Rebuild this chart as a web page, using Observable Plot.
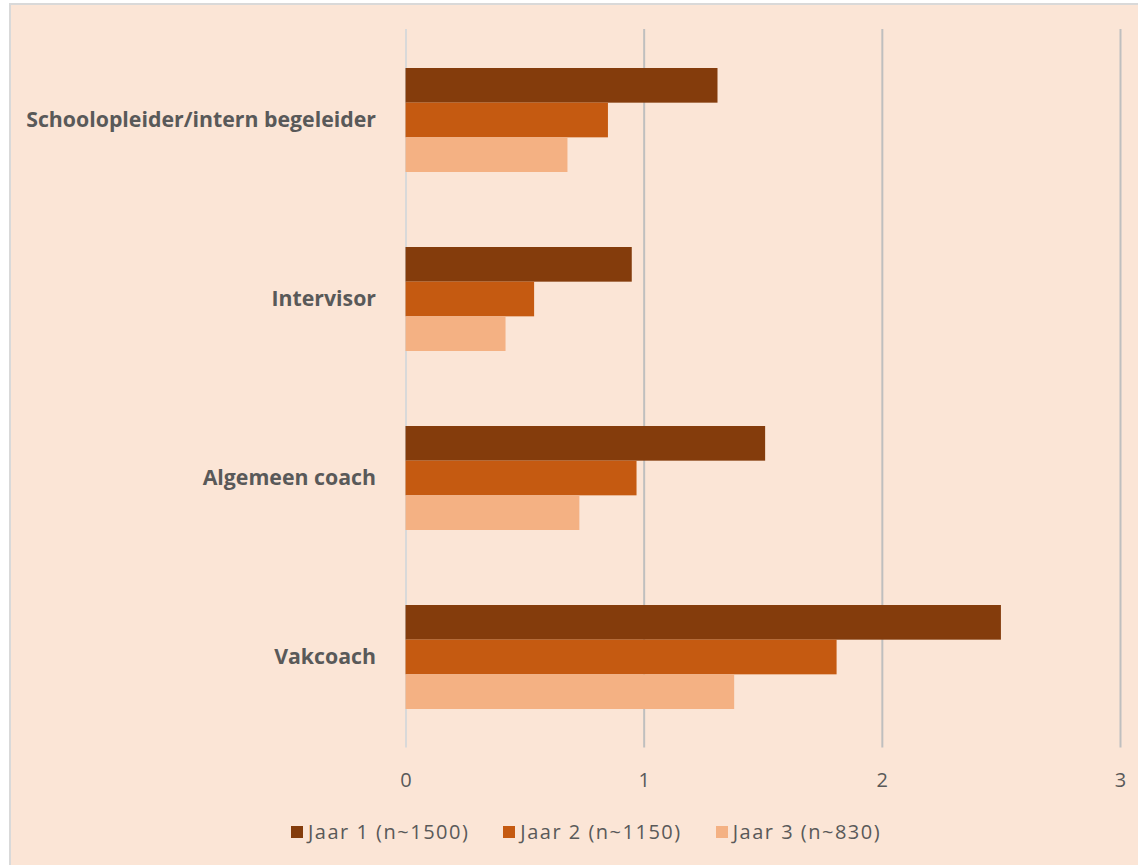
<!DOCTYPE html>
<html>
<head>
<meta charset="utf-8">
<script src="https://cdn.jsdelivr.net/npm/d3@7"></script>
<script src="https://cdn.jsdelivr.net/npm/@observablehq/plot@0.6"></script>
<style>
  html, body { margin: 0; padding: 0; background: #ffffff; width: 1138px; height: 865px; overflow: hidden; }
  #frame { position: absolute; left: 9px; top: 3px; width: 1140px; height: 870px; background: #FBE5D6;
           border-left: 2px solid #D9D9D9; border-top: 2px solid #D9D9D9; }
  #chart { position: absolute; left: 0; top: 0; }
  #legend { position: absolute; left: 291px; top: 818px; display: flex; font-family: "Open Sans", sans-serif;
            font-size: 20px; letter-spacing: 1.5px; color: #595959; white-space: nowrap; }
  .item { display: flex; align-items: center; margin-right: 34px; }
  .sw { width: 12px; height: 12px; margin-right: 5px; }
</style>
</head>
<body>
<div id="frame"></div>
<div id="chart"></div>
<div id="legend"></div>
<script>
const categories = ["Schoolopleider/intern begeleider", "Intervisor", "Algemeen coach", "Vakcoach"];
const series = ["Jaar 1 (n~1500)", "Jaar 2 (n~1150)", "Jaar 3 (n~830)"];
const jaar1 = [1.31, 0.95, 1.51, 2.50];
const jaar2 = [0.85, 0.54, 0.97, 1.81];
const jaar3 = [0.68, 0.42, 0.73, 1.38];
const xTicks = [0, 1, 2, 3];
const colors = ["#843C0C", "#C55A11", "#F4B183"];

const values = [jaar1, jaar2, jaar3];
const data = series.flatMap((s, si) => categories.map((c, ci) => ({category: c, series: s, si, value: values[si][ci]})));

const W = 1138, H = 800;
const mTop = 29, mBottom = H - 747.6;
const band = 104, nS = series.length, barH = band / nS;

const barMarks = series.map((s, si) => Plot.barX(data.filter(d => d.si === si), {
  x: "value", y: "category", fill: colors[si],
  insetTop: si * barH, insetBottom: (nS - 1 - si) * barH
}));

const chart = Plot.plot({
  width: W, height: H,
  marginTop: mTop, marginBottom: mBottom, marginLeft: 405.5, marginRight: 18,
  style: {background: "transparent", fontFamily: "'Open Sans', sans-serif", color: "#595959"},
  x: {domain: [0, 3], ticks: xTicks},
  y: {domain: categories, paddingInner: 0.421, paddingOuter: 0.21},
  marks: [
    Plot.ruleX([0], {stroke: "#D9D9D9", strokeWidth: 2}),
    Plot.ruleX(xTicks.filter(t => t > 0), {stroke: "#BFBFBF", strokeWidth: 2}),
    ...barMarks,
    Plot.axisX({ticks: xTicks, tickSize: 0, tickPadding: 25, tickFormat: d => String(d), fontSize: 20, fill: "#595959", label: null}),
    Plot.axisY({tickSize: 0, tickPadding: 30, fontSize: 21.3, fontWeight: "bold", fill: "#595959", label: null})
  ]
});
document.getElementById("chart").appendChild(chart);

const legend = document.getElementById("legend");
series.forEach((s, i) => {
  const item = document.createElement("div");
  item.className = "item";
  const sw = document.createElement("div");
  sw.className = "sw";
  sw.style.background = colors[i];
  const t = document.createElement("span");
  t.textContent = s;
  item.appendChild(sw); item.appendChild(t);
  legend.appendChild(item);
});
</script>
</body>
</html>
